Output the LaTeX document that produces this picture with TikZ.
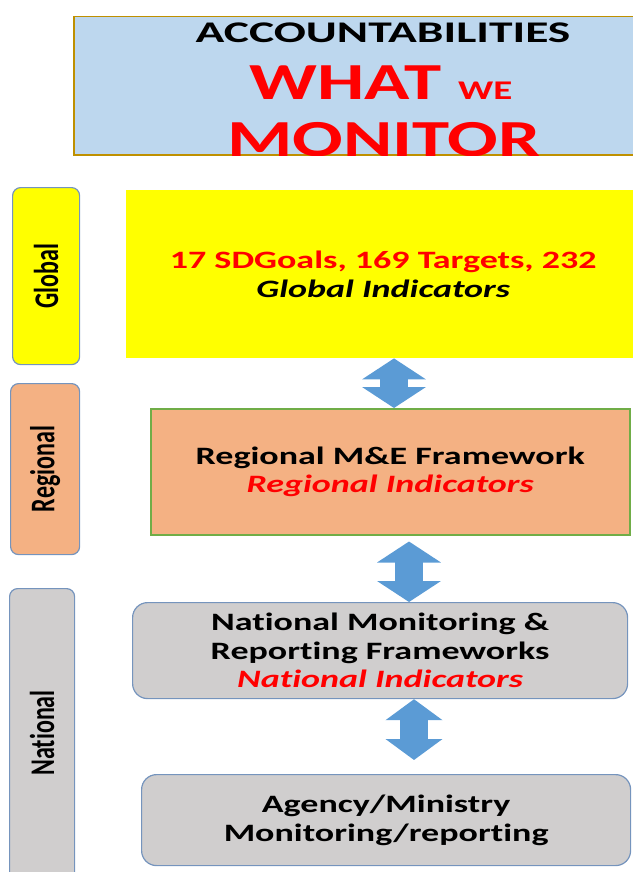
\documentclass[tikz,border=0pt]{standalone}
\usepackage{fontspec}
\setmainfont{Carlito}[FakeStretch=1.44, Ligatures={NoCommon}]
\newfontfamily\tabfont{Carlito}[FakeStretch=0.694, Ligatures={NoCommon}]
\usepackage{tikz}
\usetikzlibrary{arrows.meta, positioning}
\definecolor{titleblue}{HTML}{BDD7EE}
\definecolor{titlegold}{HTML}{BF9000}
\definecolor{sdgyellow}{HTML}{FFFF00}
\definecolor{regsalmon}{HTML}{F4B183}
\definecolor{reggreen}{HTML}{70AD47}
\definecolor{natgrey}{HTML}{D0CECE}
\definecolor{edgeblue}{HTML}{7594BD}
\definecolor{arrowblue}{HTML}{5B9BD5}
\definecolor{textred}{HTML}{FF0000}

\begin{document}
\begin{tikzpicture}[x=1pt, y=-1pt,
  every node/.style={font=\bfseries\fontsize{25}{28.5}\selectfont, align=center, inner sep=0pt},
  leveltab/.style={draw=edgeblue, line width=1.2pt, rounded corners=8pt, anchor=north west},
  levellabel/.style={font=\tabfont\bfseries\fontsize{34.6}{40}\selectfont, rotate=90},
  framebox/.style={anchor=north west},
  updown/.style={arrowblue, line width=28pt,
    {Triangle[length=21pt, width=#1]}-{Triangle[length=21pt, width=#1]}},
  updown/.default=63pt]
  \useasboundingbox (0,0) rectangle (632,872);

  \node[framebox, draw=titlegold, fill=titleblue, line width=1.5pt, minimum width=580, minimum height=138] (titlebox) at (73,16) {};
  \begin{scope}
    \clip (titlebox.north west) rectangle (titlebox.south east);
    \node[anchor=base, xscale=1.1, font=\bfseries\fontsize{30}{32}\selectfont] (heading) at (383,43) {ACCOUNTABILITIES};
    \node[anchor=base, text=textred, font=\bfseries\fontsize{52}{56}\selectfont] (what) at (381,100) {WHAT {\fontsize{27}{30}\selectfont WE}};
    \node[anchor=base, text=textred, font=\bfseries\fontsize{52}{56}\selectfont] (monitor) at (384,156) {MONITOR};
  \end{scope}

  \node[leveltab, fill=sdgyellow, minimum width=67, minimum height=177] (globaltab) at (12,187) {};
  \node[levellabel] (globallabel) at (globaltab.center) {Global};
  \node[leveltab, fill=regsalmon, minimum width=69, minimum height=171] (regionaltab) at (10,383) {};
  \node[levellabel] (regionallabel) at (regionaltab.center) {Regional};
  \node[leveltab, fill=natgrey, minimum width=65, minimum height=300] (nationaltab) at (9,588) {};
  \node[levellabel] (nationallabel) at (42,733) {National};

  \node[framebox, fill=sdgyellow, minimum width=514, minimum height=168] (globalbox) at (126,190)
    {\textcolor{textred}{17 SDGoals, 169 Targets, 232}\\\textit{Global Indicators}};
  \node[framebox, draw=reggreen, line width=1.5pt, fill=regsalmon, minimum width=479, minimum height=126] (regionalbox) at (150,408)
    {Regional M\&E Framework\\\textcolor{textred}{\textit{Regional Indicators}}};
  \node[framebox, draw=edgeblue, line width=1.2pt, fill=natgrey, rounded corners=15pt, minimum width=495, minimum height=96] (nationalbox) at (132,602)
    {National Monitoring \&\\Reporting Frameworks\\\textcolor{textred}{\textit{National Indicators}}};
  \node[framebox, draw=edgeblue, line width=1.2pt, fill=natgrey, rounded corners=15pt, minimum width=489, minimum height=91] (agencybox) at (141,774)
    {Agency/Ministry\\Monitoring/reporting};

  \coordinate (arrowone) at (394,0);
  \coordinate (arrowtwo) at (409,0);
  \coordinate (arrowthree) at (414,0);
  \draw[updown] (globalbox.south -| arrowone) -- (regionalbox.north -| arrowone);
  \draw[updown, shorten <=6pt] (regionalbox.south -| arrowtwo) -- (nationalbox.north -| arrowtwo);
  \draw[updown=56pt, shorten >=14pt] (nationalbox.south -| arrowthree) -- (agencybox.north -| arrowthree);
\end{tikzpicture}
\end{document}
